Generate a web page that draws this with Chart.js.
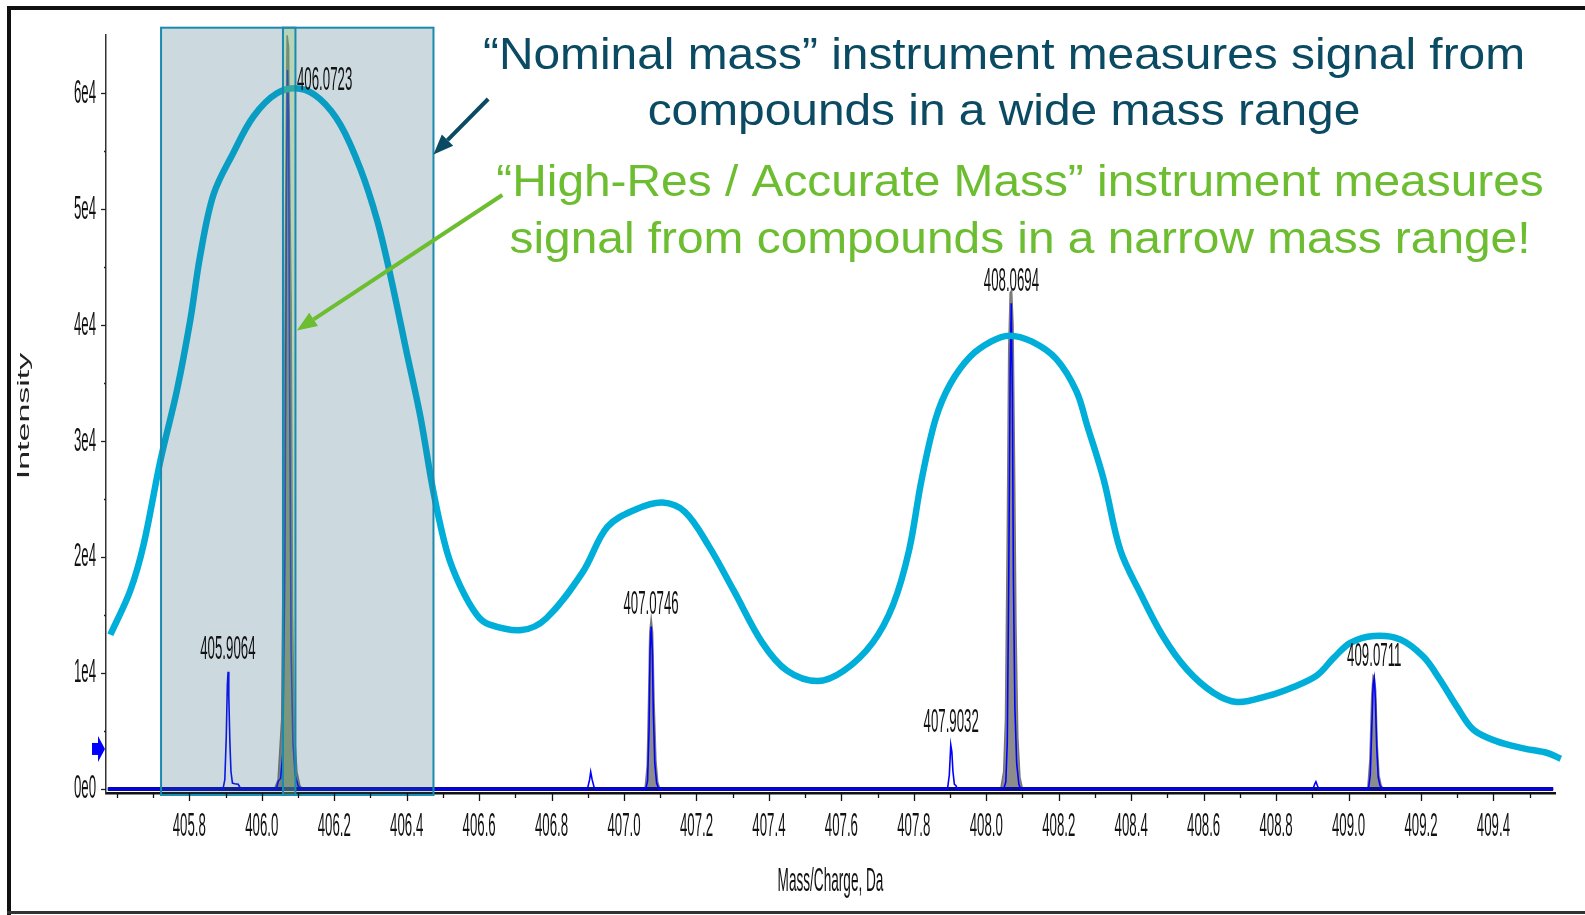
<!DOCTYPE html>
<html>
<head>
<meta charset="utf-8">
<title>Nominal mass vs accurate mass</title>
<script src="https://cdn.jsdelivr.net/npm/chart.js@4.4.1/dist/chart.umd.min.js"></script>
<style>
  html, body { margin: 0; padding: 0; background: #fff; }
</style>
</head>
<body>
<canvas id="spectrum" width="1585" height="915"></canvas>
<script>
// Nominal mass instrument: one broad envelope (m/z, intensity)
const nominalMz = [405.582, 405.637, 405.674, 405.720, 405.766, 405.803, 405.830, 405.867, 405.922, 405.977,
  406.042, 406.106, 406.161, 406.217, 406.272, 406.318, 406.355, 406.401, 406.438, 406.474,
  406.511, 406.548, 406.594, 406.627, 406.717, 406.785, 406.886, 406.954, 407.032, 407.106,
  407.168, 407.235, 407.303, 407.382, 407.450, 407.534, 407.607, 407.686, 407.743, 407.787,
  407.821, 407.860, 407.900, 407.956, 408.014, 408.063, 408.125, 408.193, 408.249, 408.278,
  408.324, 408.370, 408.425, 408.489, 408.554, 408.627, 408.692, 408.775, 408.848, 408.913,
  408.959, 409.005, 409.069, 409.143, 409.207, 409.253, 409.299, 409.345, 409.410, 409.483,
  409.549, 409.586];
const nominalSignal = [13300, 17100, 21100, 28300, 34400, 40500, 46000, 51300, 54900, 58000,
  60000, 60400, 59500, 57300, 53500, 49100, 44300, 37500, 32100, 25600,
  20500, 17500, 15000, 14200, 13700, 14700, 18700, 22600, 24100, 24700,
  23900, 20900, 17100, 12600, 10200, 9300, 10200, 12600, 15900, 20600,
  26600, 31900, 34900, 37300, 38600, 39100, 38600, 37100, 34300, 31400,
  26700, 20600, 16900, 13100, 10300, 8300, 7500, 8000, 8800, 9800,
  11300, 12600, 13200, 12900, 11400, 9400, 7100, 5100, 4100, 3500,
  3100, 2600];

// High-res trace (blue)
const blueMz = [405.575,
  405.893, 405.898, 405.902, 405.905, 405.907, 405.909, 405.912, 405.915, 405.919, 405.925, 405.935, 405.942,
  406.040, 406.046, 406.052, 406.058, 406.064, 406.068, 406.071, 406.074, 406.077, 406.081, 406.086, 406.092, 406.100, 406.106,
  406.899, 406.905, 406.908, 406.912, 406.917, 406.922,
  407.060, 407.065, 407.069, 407.072, 407.075, 407.078, 407.081, 407.085, 407.090, 407.096,
  407.893, 407.898, 407.902, 407.905, 407.908, 407.912, 407.916, 407.920,
  408.048, 408.054, 408.058, 408.062, 408.066, 408.069, 408.072, 408.075, 408.079, 408.084, 408.090, 408.095,
  408.902, 408.907, 408.910, 408.914, 408.918,
  409.055, 409.060, 409.064, 409.068, 409.071, 409.074, 409.078, 409.082, 409.087, 409.093,
  409.565];
const blueIntensity = [0,
  0, 800, 4500, 9000, 10100, 8000, 4000, 1500, 500, 450, 400, 0,
  0, 700, 900, 3000, 20000, 50000, 62000, 58000, 35000, 12000, 4000, 1200, 300, 0,
  0, 800, 1470, 800, 200, 0,
  0, 700, 5000, 12000, 14000, 12000, 6500, 2200, 500, 0,
  0, 1200, 3800, 3200, 1500, 400, 300, 0,
  0, 600, 4000, 18000, 36000, 41900, 34000, 18000, 7000, 2200, 400, 0,
  0, 450, 630, 300, 0,
  0, 1200, 5000, 9000, 9550, 7800, 3500, 1000, 300, 0,
  0];

// Profile trace (grey fill)
const greyMz = [405.575,
  406.035, 406.045, 406.055, 406.062, 406.067, 406.070, 406.074, 406.078, 406.081, 406.085, 406.090, 406.097, 406.105, 406.112,
  407.058, 407.064, 407.068, 407.071, 407.075, 407.079, 407.083, 407.088, 407.093, 407.099,
  408.040, 408.048, 408.053, 408.058, 408.062, 408.066, 408.070, 408.074, 408.078, 408.082, 408.087, 408.093, 408.100,
  409.053, 409.059, 409.064, 409.068, 409.071, 409.075, 409.079, 409.084, 409.090, 409.096,
  409.565];
const greyIntensity = [0,
  0, 800, 6000, 30000, 55000, 65000, 64000, 50000, 42000, 15000, 5000, 1500, 300, 0,
  0, 2000, 8000, 13500, 14700, 13500, 7500, 2500, 600, 0,
  0, 1500, 6000, 22000, 38000, 42800, 43000, 40000, 28000, 14000, 4500, 1000, 0,
  0, 2500, 8000, 9800, 9700, 8500, 4000, 1200, 300, 0,
  0];

const baselineMz = [405.575, 409.565];
const baselineIntensity = [0, 0];

// Labelled centroids
const peakMz = [405.9064, 406.0723, 407.0746, 407.9032, 408.0694, 409.0711];
const peakApex = [10100, 62000, 14000, 3800, 41900, 9550];

// Axis tick labels
const xTickLabels = ['405.8', '406.0', '406.2', '406.4', '406.6', '406.8', '407.0', '407.2', '407.4',
  '407.6', '407.8', '408.0', '408.2', '408.4', '408.6', '408.8', '409.0', '409.2', '409.4'];
const yTickLabels = ['0e0', '1e4', '2e4', '3e4', '4e4', '5e4', '6e4'];

// mass windows of the two instruments
const wideWindow = [405.722, 406.474];
const narrowWindow = [406.0585, 406.093];

const FONT = "'Liberation Sans', Arial, sans-serif";

function narrowText(ctx, text, x, y, align, size, sx) {
  ctx.save();
  ctx.translate(x, y);
  ctx.scale(sx, 1);
  ctx.font = size + 'px ' + FONT;
  ctx.textAlign = align;
  ctx.textBaseline = 'middle';
  ctx.fillText(text, 0, 0);
  ctx.restore();
}

function slideText(ctx, text, cx, baseline, color) {
  ctx.save();
  ctx.translate(cx, baseline);
  ctx.scale(1.063, 1);
  ctx.font = '45px ' + FONT;
  ctx.fillStyle = color;
  ctx.textAlign = 'center';
  ctx.textBaseline = 'alphabetic';
  ctx.fillText(text, 0, 0);
  ctx.restore();
}

function arrow(ctx, x1, y1, x2, y2, color, w, len, half) {
  const a = Math.atan2(y2 - y1, x2 - x1);
  const bx = x2 - len * Math.cos(a), by = y2 - len * Math.sin(a);
  ctx.save();
  ctx.strokeStyle = color;
  ctx.fillStyle = color;
  ctx.lineWidth = w;
  ctx.beginPath();
  ctx.moveTo(x1, y1);
  ctx.lineTo(bx, by);
  ctx.stroke();
  ctx.beginPath();
  ctx.moveTo(x2, y2);
  ctx.lineTo(bx + half * Math.sin(a), by - half * Math.cos(a));
  ctx.lineTo(bx - half * Math.sin(a), by + half * Math.cos(a));
  ctx.closePath();
  ctx.fill();
  ctx.restore();
}

const decorations = {
  id: 'decorations',
  afterDatasetsDraw(chart) {
    const {ctx, chartArea: area, scales: {x, y}} = chart;

    // shaded mass windows
    const box = (lo, hi, fill) => {
      const l = x.getPixelForValue(lo), r = x.getPixelForValue(hi);
      const t = y.getPixelForValue(65660), b = y.getPixelForValue(-520);
      ctx.save();
      ctx.fillStyle = fill;
      ctx.fillRect(l, t, r - l, b - t);
      ctx.strokeStyle = '#1b8aae';
      ctx.lineWidth = 2;
      ctx.strokeRect(l, t, r - l, b - t);
      ctx.restore();
    };
    box(wideWindow[0], wideWindow[1], 'rgba(40,100,125,0.24)');
    box(narrowWindow[0], narrowWindow[1], 'rgba(140,195,100,0.32)');

    // peak labels
    ctx.fillStyle = '#111';
    peakMz.forEach((m, i) => {
      const px = x.getPixelForValue(m);
      const py = y.getPixelForValue(peakApex[i]) - 22;
      if (py < area.top + 30) {
        narrowText(ctx, m.toFixed(4), px + 9, area.top + 46, 'left', 34, 0.39);
      } else {
        narrowText(ctx, m.toFixed(4), px, py, 'center', 34, 0.39);
      }
    });

    // x ticks
    ctx.save();
    ctx.strokeStyle = '#111';
    ctx.lineWidth = 1.3;
    for (let k = 0; k <= 39; k++) {
      const v = 405.6 + k * 0.1;
      const px = Math.round(x.getPixelForValue(v)) + 0.5;
      const major = xTickLabels.includes(v.toFixed(1));
      ctx.beginPath();
      ctx.moveTo(px, area.bottom);
      ctx.lineTo(px, area.bottom + (major ? 8 : 5));
      ctx.stroke();
    }
    ctx.restore();
    ctx.fillStyle = '#111';
    xTickLabels.forEach(l => {
      narrowText(ctx, l, x.getPixelForValue(parseFloat(l)), area.bottom + 34, 'center', 34, 0.39);
    });

    // y ticks
    ctx.save();
    ctx.strokeStyle = '#222';
    ctx.lineWidth = 1.3;
    for (let k = 0; k <= 12; k++) {
      const py = Math.round(y.getPixelForValue(k * 5000)) + 0.5;
      ctx.beginPath();
      ctx.moveTo(area.left, py);
      ctx.lineTo(area.left - (k % 2 ? 2 : 5), py);
      ctx.stroke();
    }
    ctx.restore();
    ctx.fillStyle = '#111';
    yTickLabels.forEach((l, i) => {
      narrowText(ctx, l, area.left - 10, y.getPixelForValue(i * 10000), 'right', 34, 0.39);
    });

    // axis titles
    narrowText(ctx, 'Mass/Charge, Da', (area.left + area.right) / 2, area.bottom + 89, 'center', 34, 0.4);
    ctx.save();
    ctx.translate(24, 416);
    ctx.rotate(-Math.PI / 2);
    ctx.scale(2.0, 1);
    ctx.font = '17px ' + FONT;
    ctx.fillStyle = '#222';
    ctx.textAlign = 'center';
    ctx.textBaseline = 'middle';
    ctx.fillText('Intensity', 0, 0);
    ctx.restore();

    // blue marker on the y axis
    const my = y.getPixelForValue(3450);
    ctx.save();
    ctx.fillStyle = '#0000ff';
    ctx.fillRect(area.left - 14, my - 6, 7, 12);
    ctx.beginPath();
    ctx.moveTo(area.left - 1, my);
    ctx.lineTo(area.left - 8, my - 13);
    ctx.lineTo(area.left - 8, my + 13);
    ctx.closePath();
    ctx.fill();
    ctx.restore();

    // callout arrows
    arrow(ctx, x.getPixelForValue(406.625), y.getPixelForValue(59510),
      x.getPixelForValue(406.474), y.getPixelForValue(54730), '#0a4a62', 4, 20, 8);
    arrow(ctx, x.getPixelForValue(406.664), y.getPixelForValue(51230),
      x.getPixelForValue(406.097), y.getPixelForValue(39550), '#6cbd2f', 4, 20, 8);

    // callout texts
    slideText(ctx, '\u201CNominal mass\u201D instrument measures signal from', 1004, 69, '#0a4a62');
    slideText(ctx, 'compounds in a wide mass range', 1004, 125, '#0a4a62');
    slideText(ctx, '\u201CHigh-Res / Accurate Mass\u201D instrument measures', 1020, 196, '#6cbd2f');
    slideText(ctx, 'signal from compounds in a narrow mass range!', 1020, 253, '#6cbd2f');

    // frame of the slide
    ctx.save();
    ctx.fillStyle = '#111';
    ctx.fillRect(7, 6, 4, 909);
    ctx.fillRect(7, 6, 1578, 4);
    ctx.fillStyle = '#333';
    ctx.fillRect(7, 911, 1578, 3);
    ctx.restore();
  }
};

const toPoints = (xs, ys) => xs.map((v, i) => ({x: v, y: ys[i]}));

new Chart(document.getElementById('spectrum'), {
  type: 'line',
  data: {
    datasets: [
      {
        label: 'Nominal mass',
        data: toPoints(nominalMz, nominalSignal),
        borderColor: '#00afd9',
        borderWidth: 6.5,
        pointRadius: 0,
        tension: 0.35,
        clip: false,
        order: 0
      },
      {
        label: 'Accurate mass',
        data: toPoints(blueMz, blueIntensity),
        borderColor: '#0000ff',
        borderWidth: 1.6,
        pointRadius: 0,
        order: 1
      },
      {
        label: 'Baseline',
        data: toPoints(baselineMz, baselineIntensity),
        borderColor: '#0a0a96',
        borderWidth: 4,
        pointRadius: 0,
        order: 2
      },
      {
        label: 'Profile',
        data: toPoints(greyMz, greyIntensity),
        borderColor: '#787878',
        backgroundColor: '#8c8c8c',
        borderWidth: 1.5,
        fill: 'origin',
        pointRadius: 0,
        order: 3
      }
    ]
  },
  options: {
    responsive: false,
    animation: false,
    devicePixelRatio: 1,
    events: [],
    layout: { padding: { left: 106, top: 35, right: 30, bottom: 122 } },
    plugins: {
      legend: { display: false },
      tooltip: { enabled: false }
    },
    scales: {
      x: {
        type: 'linear',
        min: 405.57,
        max: 409.57,
        ticks: { display: false },
        grid: { display: false, drawTicks: false, tickLength: 0 },
        border: { display: true, color: '#111', width: 2.5 }
      },
      y: {
        type: 'linear',
        min: -350,
        max: 65030,
        ticks: { display: false },
        grid: { display: false, drawTicks: false, tickLength: 0 },
        border: { display: true, color: '#333', width: 1.5 }
      }
    }
  },
  plugins: [decorations]
});
</script>
</body>
</html>
